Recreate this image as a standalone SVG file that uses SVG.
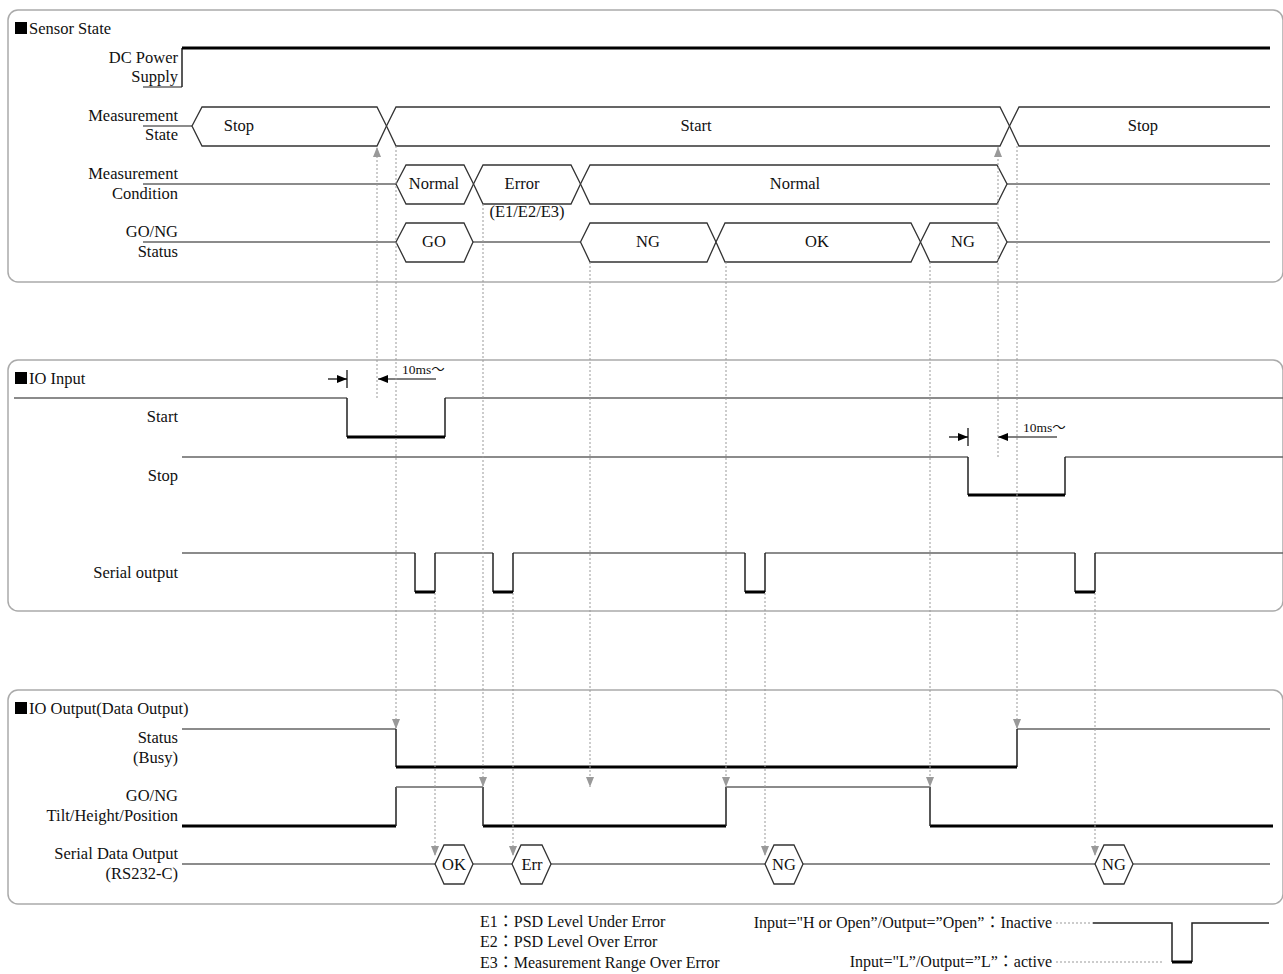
<svg xmlns="http://www.w3.org/2000/svg" width="1283" height="974" viewBox="0 0 1283 974">
<style>
.t{font-family:"Liberation Serif","Times New Roman","Noto Sans CJK JP",serif;font-size:16.5px;fill:#111}
.s{font-size:16px}
.x{font-size:13.5px}
.r{text-anchor:end}
.m{text-anchor:middle}
.sig{stroke:#666;stroke-width:1.6;fill:none}
.thk{stroke:#000;stroke-width:3;fill:none}
.ed{stroke:#222;stroke-width:1.5;fill:none}
.hex{stroke:#333;stroke-width:1.3;fill:#fff}
.dot{stroke:#999;stroke-width:1;stroke-dasharray:2 2;fill:none}
.panel{fill:none;stroke:#aaa;stroke-width:1.5}
.blk{stroke:#000;stroke-width:1.2;fill:none}
</style>
<defs>
<marker id="ga" markerUnits="userSpaceOnUse" markerWidth="10" markerHeight="8" refX="10" refY="4" orient="auto"><path d="M0,0 L10,4 L0,8 Z" fill="#999"/></marker>
<marker id="ba" markerUnits="userSpaceOnUse" markerWidth="10" markerHeight="8" refX="10" refY="4" orient="auto"><path d="M0,0 L10,4 L0,8 Z" fill="#000"/></marker>
</defs>
<rect width="1283" height="974" fill="#fff"/>

<g id="panel-sensor">
<rect class="panel" x="8" y="10" width="1275" height="272" rx="10"/>
<rect x="15" y="22" width="12" height="12" fill="#000"/>
<text class="t" x="29" y="34">Sensor State</text>
</g>
<g id="panel-input">
<rect class="panel" x="8" y="360" width="1275" height="251" rx="10"/>
<rect x="15" y="372" width="12" height="12" fill="#000"/>
<text class="t" x="29" y="384">IO Input</text>
</g>
<g id="panel-output">
<rect class="panel" x="8" y="690" width="1275" height="214" rx="10"/>
<rect x="15" y="702" width="12" height="12" fill="#000"/>
<text class="t" x="29" y="714">IO Output(Data Output)</text>
</g>

<g id="dc-power">
<text class="t r" x="178" y="63">DC Power</text>
<text class="t r" x="178" y="82">Supply</text>
<path class="sig" d="M143,87 H182"/>
<path class="ed" d="M182,87 V48"/>
<path class="thk" d="M182,48 H1270"/>
</g>

<g id="measurement-state">
<text class="t r" x="178" y="121">Measurement</text>
<text class="t r" x="178" y="140">State</text>
<path class="sig" d="M143,126 H192"/>
<path class="hex" d="M192,126 L202,107 H377 L386.5,126 L377,146 H202 Z"/>
<path class="hex" d="M386.5,126 L396,107 H1000 L1009.5,126 L1000,146 H396 Z"/>
<path class="hex" fill="none" d="M1270,107 H1019 L1009.5,126 L1019,146 H1270"/>
<text class="t m" x="239" y="131">Stop</text>
<text class="t m" x="696" y="131">Start</text>
<text class="t m" x="1143" y="131">Stop</text>
</g>

<g id="measurement-condition">
<text class="t r" x="178" y="179">Measurement</text>
<text class="t r" x="178" y="199">Condition</text>
<path class="sig" d="M143,184 H396 M1007,184 H1270"/>
<path class="hex" d="M396,184 L406,165 H464 L473.5,184 L464,204 H406 Z"/>
<path class="hex" d="M473.5,184 L483,165 H571 L580.5,184 L571,204 H483 Z"/>
<path class="hex" d="M580.5,184 L590,165 H997 L1007,184 L997,204 H590 Z"/>
<text class="t m" x="434" y="189">Normal</text>
<text class="t m" x="522" y="189">Error</text>
<text class="t m" x="527" y="217">(E1/E2/E3)</text>
<text class="t m" x="795" y="189">Normal</text>
</g>

<g id="gong-status">
<text class="t r" x="178" y="237">GO/NG</text>
<text class="t r" x="178" y="257">Status</text>
<path class="sig" d="M143,242 H396 M473,242 H580 M1007,242 H1270"/>
<path class="hex" d="M396,242 L406,223 H464 L473,242 L464,262 H406 Z"/>
<path class="hex" d="M580.5,242 L590,223 H707 L716,242 L707,262 H590 Z"/>
<path class="hex" d="M716,242 L725,223 H911 L920.5,242 L911,262 H725 Z"/>
<path class="hex" d="M920.5,242 L930,223 H997 L1007,242 L997,262 H930 Z"/>
<text class="t m" x="434" y="247">GO</text>
<text class="t m" x="648" y="247">NG</text>
<text class="t m" x="817" y="247">OK</text>
<text class="t m" x="963" y="247">NG</text>
</g>

<g id="io-start">
<text class="t r" x="178" y="422">Start</text>
<path class="sig" d="M14,398 H347 M445,398 H1283"/>
<path class="ed" d="M347,398 V437 M445,437 V398"/>
<path class="thk" d="M347,437 H445"/>
<path class="blk" d="M347,370 V388"/>
<line class="blk" x1="328" y1="379" x2="347" y2="379" marker-end="url(#ba)"/>
<line class="blk" x1="436" y1="379" x2="378" y2="379" marker-end="url(#ba)"/>
<text class="t x" x="402" y="374">10ms〜</text>
</g>

<g id="io-stop">
<text class="t r" x="178" y="481">Stop</text>
<path class="sig" d="M182,457 H968 M1065,457 H1283"/>
<path class="ed" d="M968,457 V495 M1065,495 V457"/>
<path class="thk" d="M968,495 H1065"/>
<path class="blk" d="M968,428 V446"/>
<line class="blk" x1="949" y1="437" x2="968" y2="437" marker-end="url(#ba)"/>
<line class="blk" x1="1057" y1="437" x2="998" y2="437" marker-end="url(#ba)"/>
<text class="t x" x="1023" y="432">10ms〜</text>
</g>

<g id="io-serial-output">
<text class="t r" x="178" y="578">Serial output</text>
<path class="sig" d="M182,553 H415 M435,553 H493 M513,553 H745 M765,553 H1075 M1095,553 H1283"/>
<path class="ed" d="M415,553 V592 M435,592 V553 M493,553 V592 M513,592 V553 M745,553 V592 M765,592 V553 M1075,553 V592 M1095,592 V553"/>
<path class="thk" d="M415,592 H435 M493,592 H513 M745,592 H765 M1075,592 H1095"/>
</g>

<g id="out-status">
<text class="t r" x="178" y="743">Status</text>
<text class="t r" x="178" y="763">(Busy)</text>
<path class="sig" d="M182,729 H396 M1017,729 H1270"/>
<path class="ed" d="M396,729 V767 M1017,767 V729"/>
<path class="thk" d="M396,767 H1017"/>
</g>

<g id="out-gong">
<text class="t r" x="178" y="801">GO/NG</text>
<text class="t r" x="178" y="821">Tilt/Height/Position</text>
<path class="thk" d="M182,826 H396 M483,826 H726 M930,826 H1273"/>
<path class="ed" d="M396,826 V787 M483,787 V826 M726,826 V787 M930,787 V826"/>
<path class="sig" d="M396,787 H483 M726,787 H930"/>
</g>

<g id="out-serial-data">
<text class="t r" x="178" y="859">Serial Data Output</text>
<text class="t r" x="178" y="879">(RS232-C)</text>
<path class="sig" d="M182,864 H1270"/>
<path class="hex" d="M435,864 L444,845 H464 L473,864 L464,884 H444 Z"/>
<path class="hex" d="M512,864 L521,845 H542 L551,864 L542,884 H521 Z"/>
<path class="hex" d="M765,864 L774,845 H794 L803,864 L794,884 H774 Z"/>
<path class="hex" d="M1095,864 L1104,845 H1124 L1133,864 L1124,884 H1104 Z"/>
<text class="t m" x="454" y="870">OK</text>
<text class="t m" x="532" y="870">Err</text>
<text class="t m" x="784" y="870">NG</text>
<text class="t m" x="1114" y="870">NG</text>
</g>

<g id="connectors">
<line class="dot" x1="377" y1="398" x2="377" y2="147" marker-end="url(#ga)"/>
<line class="dot" x1="396" y1="146" x2="396" y2="729" marker-end="url(#ga)"/>
<line class="dot" x1="483" y1="204" x2="483" y2="787" marker-end="url(#ga)"/>
<line class="dot" x1="590" y1="262" x2="590" y2="787" marker-end="url(#ga)"/>
<line class="dot" x1="726" y1="262" x2="726" y2="787" marker-end="url(#ga)"/>
<line class="dot" x1="930" y1="262" x2="930" y2="787" marker-end="url(#ga)"/>
<line class="dot" x1="998" y1="457" x2="998" y2="147" marker-end="url(#ga)"/>
<line class="dot" x1="1017" y1="146" x2="1017" y2="729" marker-end="url(#ga)"/>
<line class="dot" x1="435" y1="593" x2="435" y2="856" marker-end="url(#ga)"/>
<line class="dot" x1="513" y1="593" x2="513" y2="856" marker-end="url(#ga)"/>
<line class="dot" x1="765" y1="593" x2="765" y2="856" marker-end="url(#ga)"/>
<line class="dot" x1="1095" y1="593" x2="1095" y2="856" marker-end="url(#ga)"/>
</g>

<g id="legend">
<text class="t s" x="480" y="927">E1：PSD Level Under Error</text>
<text class="t s" x="480" y="947">E2：PSD Level Over Error</text>
<text class="t s" x="480" y="968">E3：Measurement Range Over Error</text>
<text class="t s r" x="1052" y="928">Input="H or Open”/Output=”Open”：Inactive</text>
<text class="t s r" x="1052" y="967">Input="L”/Output=”L”：active</text>
<path class="dot" d="M1056,923 H1093 M1056,962 H1163" stroke="#777"/>
<path class="ed" d="M1093,923 H1172 V962 M1192,962 V923 H1269"/>
<path class="thk" d="M1172,962 H1192"/>
</g>
</svg>
